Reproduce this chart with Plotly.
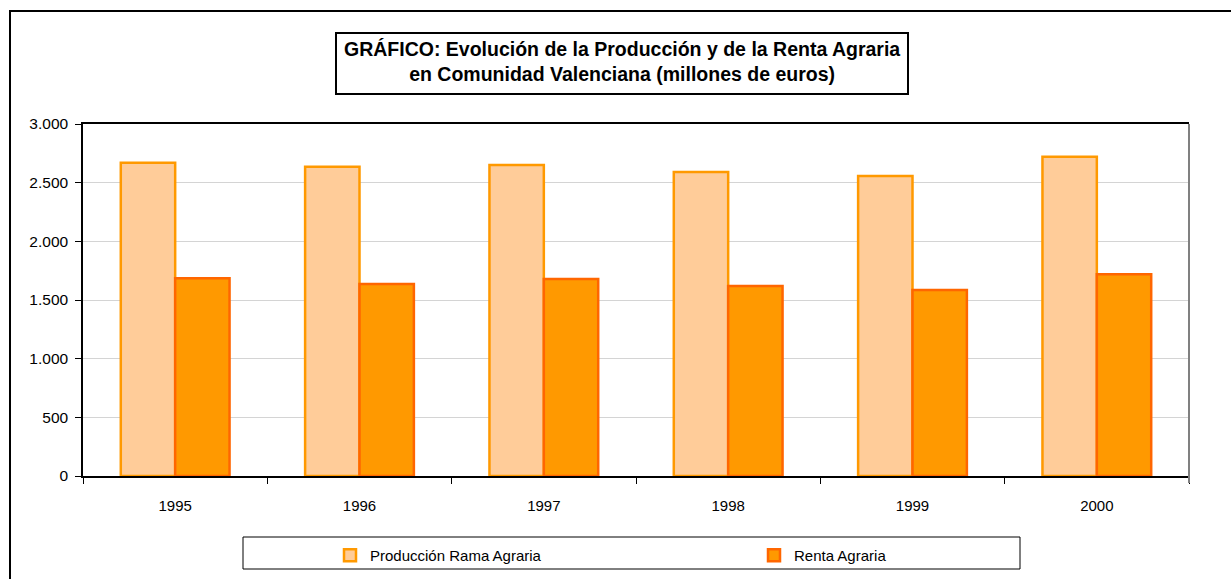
import plotly.graph_objects as go

years = ["1995", "1996", "1997", "1998", "1999", "2000"]
produccion = [2670, 2636, 2651, 2591, 2557, 2721]
renta = [1685, 1636, 1679, 1619, 1585, 1719]

W, H = 1231, 579
L, R, T, B = 83, 1189, 124, 476

def px_x(p):
    return (p - L) / (R - L)

def px_y(p):
    return (B - p) / (B - T)

fig = go.Figure()
fig.add_trace(go.Bar(
    x=years, y=produccion, name="Producción Rama Agraria",
    marker=dict(color="#FFCC99", line=dict(color="#FF9900", width=2.5)),
))
fig.add_trace(go.Bar(
    x=years, y=renta, name="Renta Agraria",
    marker=dict(color="#FF9900", line=dict(color="#FF6600", width=2.5)),
))

font_family = "Liberation Sans, Arial, sans-serif"

fig.update_layout(
    width=W, height=H,
    margin=dict(l=L, r=W - R, t=T, b=H - B, autoexpand=False),
    paper_bgcolor="white", plot_bgcolor="white",
    barmode="group", bargap=0.41, bargroupgap=0,
    separators=",.",
    font=dict(family=font_family, size=15, color="black"),
    showlegend=True,
    legend=dict(
        orientation="h", x=px_x(330), y=px_y(539), xanchor="left", yanchor="top",
        bgcolor="rgba(0,0,0,0)", borderwidth=0,
        entrywidth=379, entrywidthmode="pixels",
        font=dict(family=font_family, size=15, color="black"),
        itemwidth=30,
    ),
    xaxis=dict(
        type="category", showline=True, linecolor="black", linewidth=1.5,
        mirror=True, ticks="outside", tickson="boundaries", ticklen=6,
        tickcolor="black", showgrid=False, ticklabelstandoff=15,
        automargin=False,
        tickfont=dict(family=font_family, size=15, color="black"),
    ),
    yaxis=dict(
        range=[0, 3000], dtick=500, tickformat=",d",
        showline=True, linecolor="black", linewidth=1.5,
        ticks="outside", ticklen=6, tickcolor="black", ticklabelstandoff=4,
        showgrid=True, gridcolor="#D4D4D4", gridwidth=1, zeroline=False,
        automargin=False,
        tickfont=dict(family=font_family, size=15.5, color="black"),
    ),
)

shapes = [
    # outer chart border
    dict(type="rect", xref="paper", yref="paper",
         x0=px_x(10), y0=px_y(600), x1=px_x(1260), y1=px_y(11),
         line=dict(color="black", width=2), fillcolor="rgba(0,0,0,0)"),
    # right plot border
    dict(type="line", xref="paper", yref="paper",
         x0=1, x1=1, y0=px_y(483), y1=1,
         line=dict(color="#808080", width=2)),
    # title box
    dict(type="rect", xref="paper", yref="paper",
         x0=px_x(336), y0=px_y(94), x1=px_x(908), y1=px_y(33),
         line=dict(color="black", width=2), fillcolor="white"),
    # legend box
    dict(type="rect", xref="paper", yref="paper",
         x0=px_x(243), y0=px_y(569), x1=px_x(1020), y1=px_y(537),
         line=dict(color="black", width=1), fillcolor="rgba(0,0,0,0)"),
]
fig.update_layout(shapes=shapes)

fig.add_annotation(
    xref="paper", yref="paper", x=px_x(622), y=px_y(61),
    xanchor="center", yanchor="middle", showarrow=False,
    text="<b>GRÁFICO: Evolución de la Producción y de la Renta Agraria<br>en Comunidad Valenciana (millones de euros)</b>",
    font=dict(family=font_family, size=19.5, color="black"), align="center",
)

fig.write_html("out.html", config={"displayModeBar": False},
               post_script="document.body.style.margin='0';")
